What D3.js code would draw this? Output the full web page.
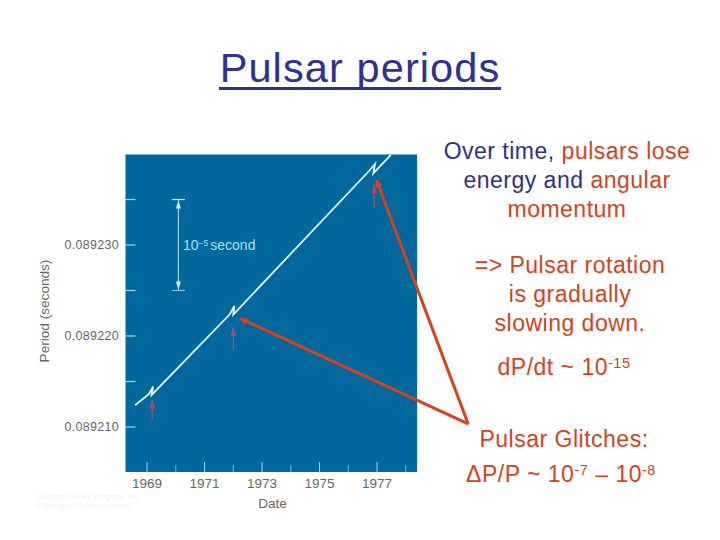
<!DOCTYPE html>
<html>
<head>
<meta charset="utf-8">
<script src="https://cdn.jsdelivr.net/npm/d3@7"></script>
<style>
  html, body { margin: 0; padding: 0; background: #fff; }
  text { font-family: "Liberation Sans", Arial, sans-serif; }
</style>
</head>
<body>
<svg id="chart" width="720" height="540"></svg>
<script>
// period curve (year, seconds)
var lineYears = [1968.58, 1969.07, 1969.21, 1969.16, 1971.87, 1972.04, 1972.00, 1976.77, 1976.93, 1976.87, 1977.48];
var linePeriods = [0.08921239, 0.08921363, 0.08921445, 0.08921352, 0.08922236, 0.08922330, 0.08922236, 0.08923830, 0.08923890, 0.08923788, 0.08923992];

var glitchYears = [1969.18, 1972.0, 1976.9];
var glitchArrowTop = [0.08921300, 0.08922100, 0.08923670];
var glitchArrowBottom = [0.08921075, 0.08921840, 0.08923405];

var yearTicks = [1969, 1970, 1971, 1972, 1973, 1974, 1975, 1976, 1977, 1978];
var yearLabels = [1969, 1971, 1973, 1975, 1977];
var periodTicks = [0.089210, 0.089215, 0.089220, 0.089225, 0.089230, 0.089235];
var periodLabels = [0.089210, 0.089220, 0.089230];

// big callout arrows, from the vertex by the glitch text
var calloutYears = [1980.17, 1976.98, 1972.23];
var calloutPeriods = [0.08921033, 0.08923714, 0.08922195];

var scaleBarPeriods = [0.089225, 0.089235];

var svg = d3.select("#chart");
var plot = { left: 125.5, right: 417, top: 154.5, bottom: 472 };

var x = d3.scaleLinear().domain([1968.25, 1978.39]).range([plot.left, plot.right]);
var y = d3.scaleLinear().domain([0.08920505, 0.08923995]).range([plot.bottom, plot.top]);

var defs = svg.append("defs");
defs.append("marker").attr("id", "bigHead")
    .attr("viewBox", "0 0 10 10").attr("refX", 9).attr("refY", 5)
    .attr("markerUnits", "userSpaceOnUse")
    .attr("markerWidth", 10).attr("markerHeight", 8).attr("orient", "auto")
  .append("path").attr("d", "M0,0L10,5L0,10Z").attr("fill", "#d4431c");

// title
svg.append("text")
    .attr("x", 360).attr("y", 82)
    .attr("text-anchor", "middle")
    .attr("font-size", 41.5)
    .attr("letter-spacing", 1.1)
    .attr("fill", "#2e3192")
    .text("Pulsar periods");
svg.append("rect").attr("x", 219).attr("y", 87).attr("width", 282).attr("height", 3).attr("fill", "#2e3192");

// plot panel
svg.append("rect")
    .attr("x", plot.left).attr("y", plot.top)
    .attr("width", plot.right - plot.left).attr("height", plot.bottom - plot.top)
    .attr("fill", "#00689c");

// y ticks, drawn inward
svg.append("g").selectAll("line")
  .data(periodTicks)
  .enter().append("line")
    .attr("x1", plot.left).attr("x2", plot.left + 10)
    .attr("y1", function(d) { return y(d); })
    .attr("y2", function(d) { return y(d); })
    .attr("stroke", "#9bdcf0").attr("stroke-width", 1.2);

svg.append("g").selectAll("text")
  .data(periodLabels)
  .enter().append("text")
    .attr("x", 119).attr("y", function(d) { return y(d); })
    .attr("dy", "0.35em")
    .attr("text-anchor", "end")
    .attr("font-size", 12.5)
    .attr("letter-spacing", 0.3)
    .attr("fill", "#666")
    .text(function(d) { return d.toFixed(6); });

// x ticks, alternating length
svg.append("g").selectAll("line")
  .data(yearTicks)
  .enter().append("line")
    .attr("x1", function(d) { return x(d); })
    .attr("x2", function(d) { return x(d); })
    .attr("y1", plot.bottom)
    .attr("y2", function(d) { return plot.bottom - (d % 2 ? 10 : 7); })
    .attr("stroke", function(d) { return d % 2 ? "#9bdcf0" : "#6fbcd8"; })
    .attr("stroke-width", 1);

svg.append("g").selectAll("text")
  .data(yearLabels)
  .enter().append("text")
    .attr("x", function(d) { return x(d); }).attr("y", 488)
    .attr("text-anchor", "middle")
    .attr("font-size", 13.5)
    .attr("fill", "#666")
    .text(function(d) { return d; });

svg.append("text").attr("x", 272.5).attr("y", 508)
    .attr("text-anchor", "middle").attr("font-size", 13.5).attr("fill", "#666").text("Date");

svg.append("text")
    .attr("transform", "translate(49,311) rotate(-90)")
    .attr("text-anchor", "middle").attr("font-size", 13.6).attr("fill", "#666")
    .text("Period (seconds)");

// faint credit line under the plot
svg.selectAll(".credit")
  .data(["Addison-Wesley Longman, Inc.", "Copyright © Addison Wesley"])
  .enter().append("text").attr("class", "credit")
    .attr("x", 37).attr("y", function(d, i) { return 499 + i * 9; })
    .attr("font-size", 7.5).attr("fill", "#f1f1f4")
    .text(function(d) { return d; });

// 10^-5 second scale bar
var barX = x(1970.09);
svg.append("g").selectAll("line")
  .data(scaleBarPeriods)
  .enter().append("line")
    .attr("x1", barX - 6.5).attr("x2", barX + 6.5)
    .attr("y1", function(d) { return y(d); })
    .attr("y2", function(d) { return y(d); })
    .attr("stroke", function(d, i) { return i ? "#c4eefa" : "#7fc0d8"; })
    .attr("stroke-width", 1.2);
svg.append("line")
    .attr("x1", barX).attr("x2", barX)
    .attr("y1", y(scaleBarPeriods[1])).attr("y2", y(scaleBarPeriods[0]))
    .attr("stroke", "#b4e6f5").attr("stroke-width", 1);
scaleBarPeriods.forEach(function(p, i) {
  var dir = i ? 1 : -1;
  svg.append("path")
      .attr("d", d3.line()([[barX, y(p) + dir], [barX - 2.5, y(p) + dir * 9], [barX + 2.5, y(p) + dir * 9]]) + "Z")
      .attr("fill", "#d4f2fb");
});
var barText = svg.append("text").attr("x", 183).attr("y", y(0.08923) + 4.5)
    .attr("font-size", 14).attr("fill", "#a9e0f2");
barText.append("tspan").text("10");
barText.append("tspan").attr("dy", -4).attr("font-size", 8.5).text("−5");
barText.append("tspan").attr("dy", 4).attr("dx", 2).text("second");

// period curve
svg.append("path")
    .datum(d3.zip(lineYears, linePeriods))
    .attr("fill", "none")
    .attr("stroke", "#e6fbff")
    .attr("stroke-width", 1.8)
    .attr("d", d3.line()
        .x(function(d) { return x(d[0]); })
        .y(function(d) { return y(d[1]); }));

// small red arrows under the glitches
glitchYears.forEach(function(g, i) {
  svg.append("line")
      .attr("x1", x(g)).attr("x2", x(g))
      .attr("y1", y(glitchArrowBottom[i])).attr("y2", y(glitchArrowTop[i]))
      .attr("stroke", "#8a5a80").attr("stroke-width", 1.2);
  svg.append("path")
      .attr("d", d3.line()([[x(g), y(glitchArrowTop[i])], [x(g) - 3, y(glitchArrowTop[i]) + 9], [x(g) + 3, y(glitchArrowTop[i]) + 9]]) + "Z")
      .attr("fill", "#b04a62");
});

// orange callout arrows
[1, 2].forEach(function(i) {
  svg.append("line")
      .attr("x1", x(calloutYears[0])).attr("y1", y(calloutPeriods[0]))
      .attr("x2", x(calloutYears[i])).attr("y2", y(calloutPeriods[i]))
      .attr("stroke", "#d4431c").attr("stroke-width", 3)
      .attr("marker-end", "url(#bigHead)");
});

// text on the right
var navy = "#2e3182", red = "#d04420";
var notes = [
  { y: 159, cx: 567, parts: [["Over time, ", navy], ["pulsars lose", red]] },
  { y: 188, cx: 567, parts: [["energy and ", navy], ["angular", red]] },
  { y: 217, cx: 567, parts: [["momentum", red]] },
  { y: 273, cx: 570, parts: [["=> Pulsar rotation", red]] },
  { y: 302, cx: 570, parts: [["is gradually", red]] },
  { y: 331, cx: 570, parts: [["slowing down.", red]] }
];
notes.forEach(function(n) {
  var t = svg.append("text").attr("x", n.cx).attr("y", n.y)
      .attr("text-anchor", "middle").attr("font-size", 23).attr("letter-spacing", 0.5);
  n.parts.forEach(function(p) {
    t.append("tspan").attr("fill", p[1]).text(p[0]);
  });
});

function supText(cx, baseline, parts) {
  var t = svg.append("text").attr("x", cx).attr("y", baseline)
      .attr("text-anchor", "middle").attr("font-size", 23).attr("letter-spacing", 0.5).attr("fill", red);
  var up = false;
  parts.forEach(function(p) {
    var s = t.append("tspan").text(p[0]);
    if (p[1]) { s.attr("dy", -7).attr("font-size", 14.5); up = true; }
    else if (up) { s.attr("dy", 7); up = false; }
  });
}
supText(564, 374.5, [["dP/dt ~ 10", 0], ["-15", 1]]);
svg.append("text").attr("x", 564).attr("y", 447)
    .attr("text-anchor", "middle").attr("font-size", 23).attr("letter-spacing", 0.5).attr("fill", red).text("Pulsar Glitches:");
supText(561, 482, [["ΔP/P ~ 10", 0], ["-7", 1], [" – 10", 0], ["-8", 1]]);
</script>
</body>
</html>
